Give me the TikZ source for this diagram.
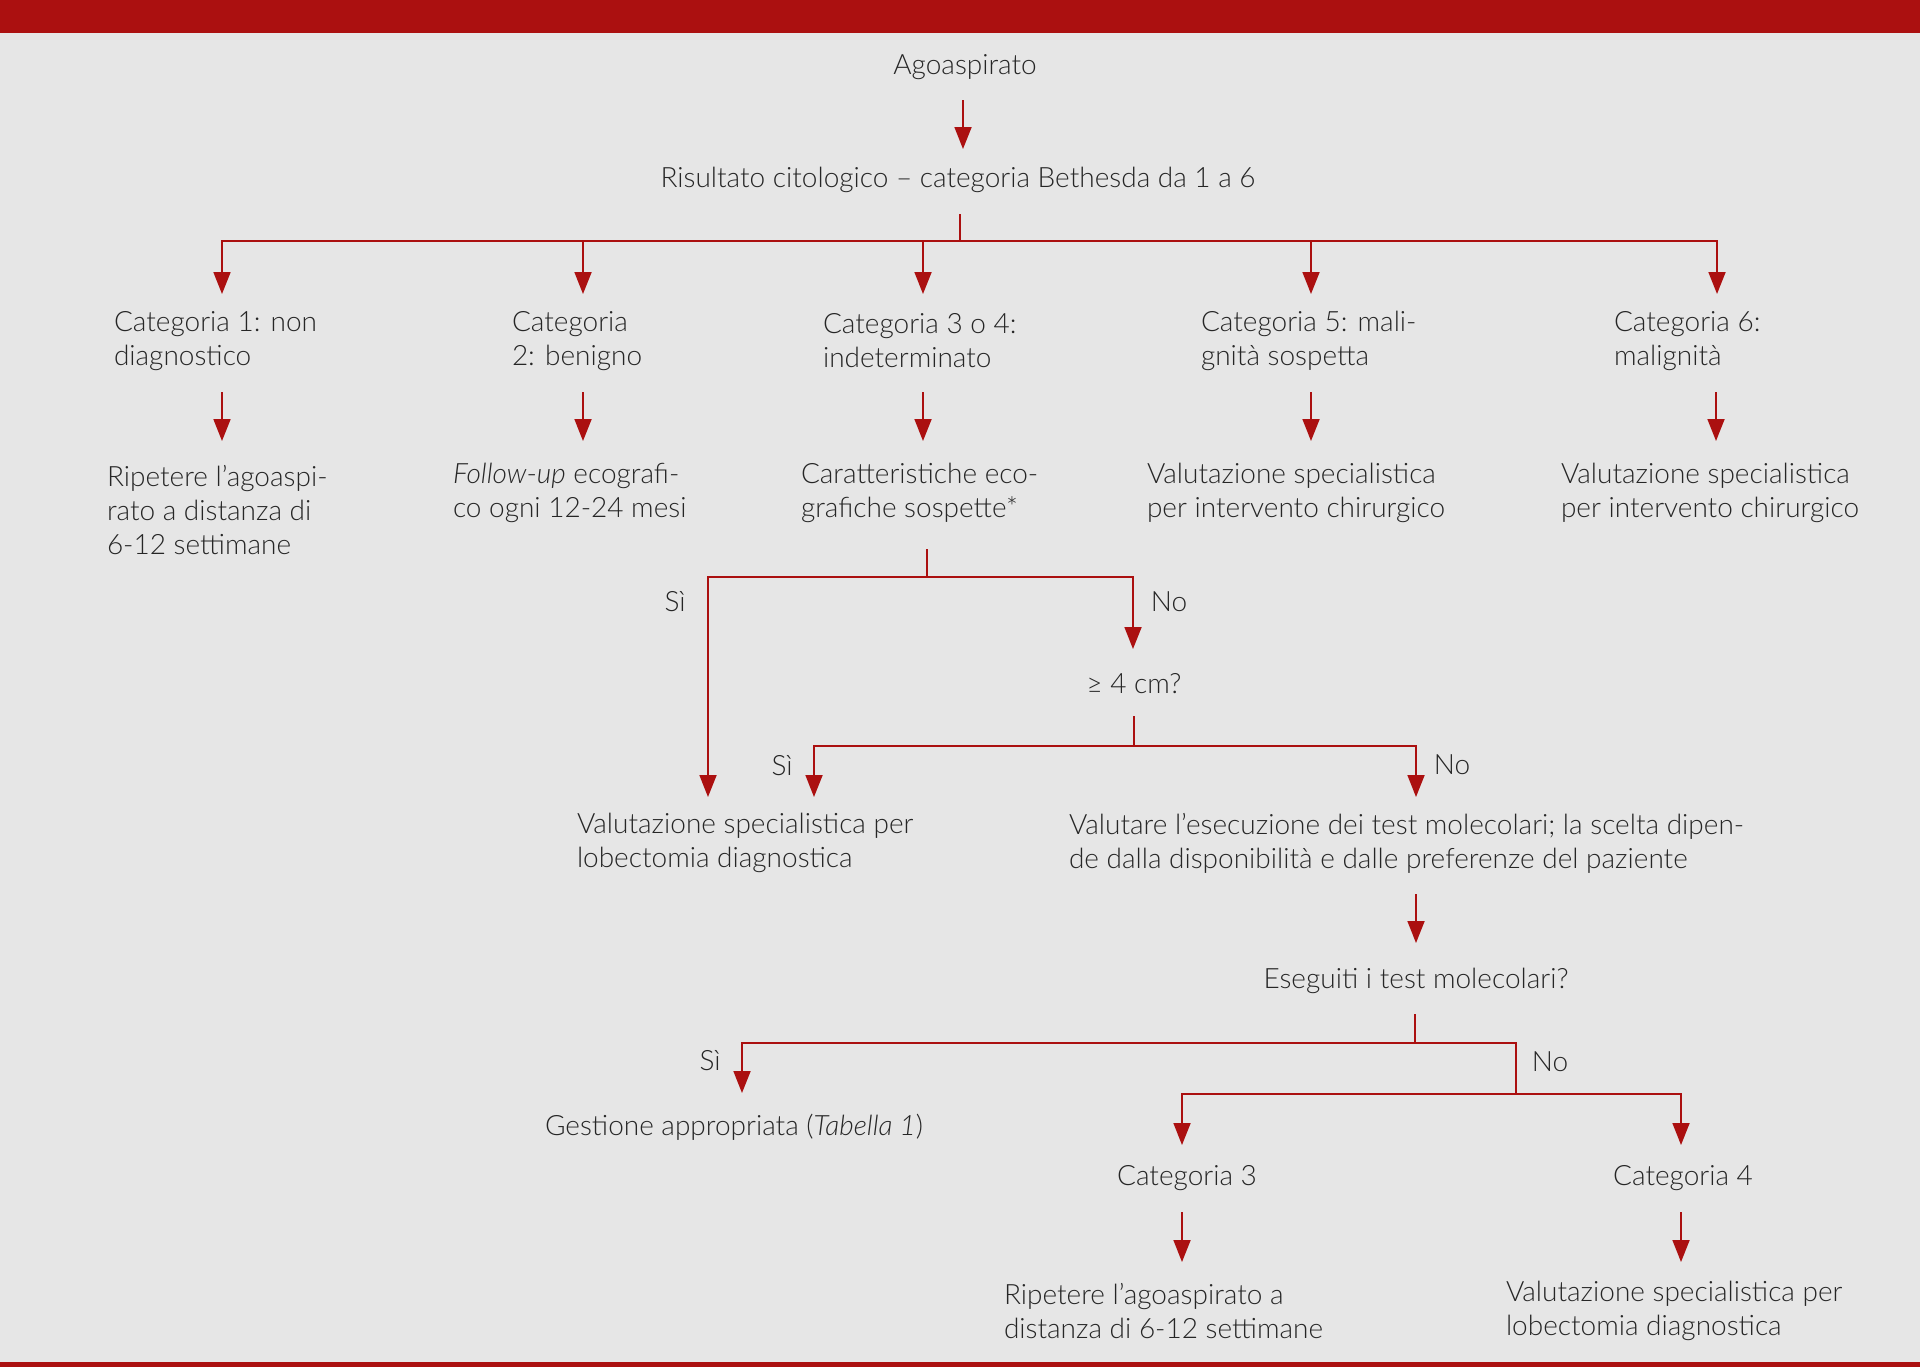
\documentclass[tikz,border=0pt]{standalone}
\usepackage{fontspec}
\IfFontExistsTF{Lato Light}{\setmainfont{Lato Light}}{\setmainfont{Lato}}
\usetikzlibrary{arrows.meta}
\definecolor{brand}{HTML}{AB1010}
\definecolor{bgc}{HTML}{E6E6E6}
\definecolor{ink}{HTML}{262626}
\begin{document}
\begin{tikzpicture}[x=0.5pt,y=-0.5pt,
  txt/.style={inner sep=0pt,outer sep=0pt,align=left,text=ink,font=\fontsize{14}{17}\selectfont},
  lbl/.style={inner sep=0pt,text=ink,font=\fontsize{14}{17}\selectfont},
  ln/.style={draw=brand,line width=0.9pt},
  arr/.style={draw=brand,line width=0.9pt,-{Triangle[length=11pt,width=8.5pt]}}]
\useasboundingbox (0,0) rectangle (1920,1367);
\fill[bgc] (0,0) rectangle (1920,1367);
\fill[brand] (0,0) rectangle (1920,33);
\fill[brand] (0,1362) rectangle (1920,1367);

% nodes
\node[txt] (ago) at (965,67) {Agoaspirato};
\node[txt] (res) at (958,180) {Risultato citologico – categoria Bethesda da 1 a 6};
\node[txt,anchor=west] (c1) at (114,341) {Categoria 1: non\\diagnostico};
\node[txt,anchor=west] (c2) at (512,341) {Categoria\\2: benigno};
\node[txt,anchor=west] (c34) at (823,341) {Categoria 3 o 4:\\indeterminato};
\node[txt,anchor=west] (c5) at (1201,341) {Categoria 5: mali-\\gnità sospetta};
\node[txt,anchor=west] (c6) at (1614,341) {Categoria 6:\\malignità};
\node[txt,anchor=west] (r1) at (107,510) {Ripetere l’agoaspi-\\rato a distanza di\\6-12 settimane};
\node[txt,anchor=west] (r2) at (453,493) {\textit{Follow}-\textit{up} ecografi-\\co ogni 12-24 mesi};
\node[txt,anchor=west] (r34) at (801,493) {Caratteristiche eco-\\grafiche sospette*};
\node[txt,anchor=west] (r5) at (1147,493) {Valutazione specialistica\\per intervento chirurgico};
\node[txt,anchor=west] (r6) at (1561,493) {Valutazione specialistica\\per intervento chirurgico};
\node[txt] (cm4) at (1134,684) {≥ 4 cm?};
\node[txt,anchor=west] (lob1) at (577,843) {Valutazione specialistica per\\lobectomia diagnostica};
\node[txt,anchor=west] (mol) at (1069,843) {Valutare l’esecuzione dei test molecolari; la scelta dipen-\\de dalla disponibilità e dalle preferenze del paziente};
\node[txt] (eseg) at (1416,981) {Eseguiti i test molecolari?};
\node[txt,anchor=west] (gest) at (545,1127) {Gestione appropriata (\textit{Tabella 1})};
\node[txt] (cat3) at (1187,1178) {Categoria 3};
\node[txt] (cat4) at (1683,1178) {Categoria 4};
\node[txt,anchor=west] (rip3) at (1004,1311) {Ripetere l’agoaspirato a\\distanza di 6-12 settimane};
\node[txt,anchor=west] (lob4) at (1506,1311) {Valutazione specialistica per\\lobectomia diagnostica};

% labels
\node[lbl] (si1) at (675,602) {Sì};
\node[lbl] (no1) at (1169,602) {No};
\node[lbl] (si2) at (782,766) {Sì};
\node[lbl] (no2) at (1452,765) {No};
\node[lbl] (si3) at (710,1061) {Sì};
\node[lbl] (no3) at (1550,1062) {No};

% junction coordinates
\coordinate (j1) at (960,241);
\coordinate (j2) at (927,577);
\coordinate (j3) at (1134,746);
\coordinate (j4) at (1415,1043);
\coordinate (j5) at (1516,1094);

% connectors
\draw[arr] (ago) ++(-2,33) -- ++(0,49);
\draw[ln] (res) ++(2,34) -- (j1);
\draw[ln] (j1) -- (1717,241);
\draw[ln] (j1) -- (222,241);
\foreach \xx in {222,583,923,1311,1717}{\draw[arr] (\xx,240) -- (\xx,294);}
\foreach \xx in {222,583,923,1311,1716}{\draw[arr] (\xx,392) -- (\xx,441);}
\draw[ln] (j2) -- ++(0,-28);
\draw[arr] (j2) -| (708,797);
\draw[arr] (j2) -| (1133,649);
\draw[ln] (cm4) ++(0,32) -- (j3);
\draw[arr] (j3) -| (814,797);
\draw[arr] (j3) -| (1416,797);
\draw[arr] (1416,894) -- (1416,943);
\draw[ln] (eseg) ++(-1,33) -- (j4);
\draw[arr] (j4) -| (742,1093);
\draw[ln] (j4) -| (j5);
\draw[arr] (j5) -| (1182,1145);
\draw[arr] (j5) -| (1681,1145);
\draw[arr] (cat3) ++(-5,34) -- ++(0,50);
\draw[arr] (cat4) ++(-2,34) -- ++(0,50);
\end{tikzpicture}
\end{document}
